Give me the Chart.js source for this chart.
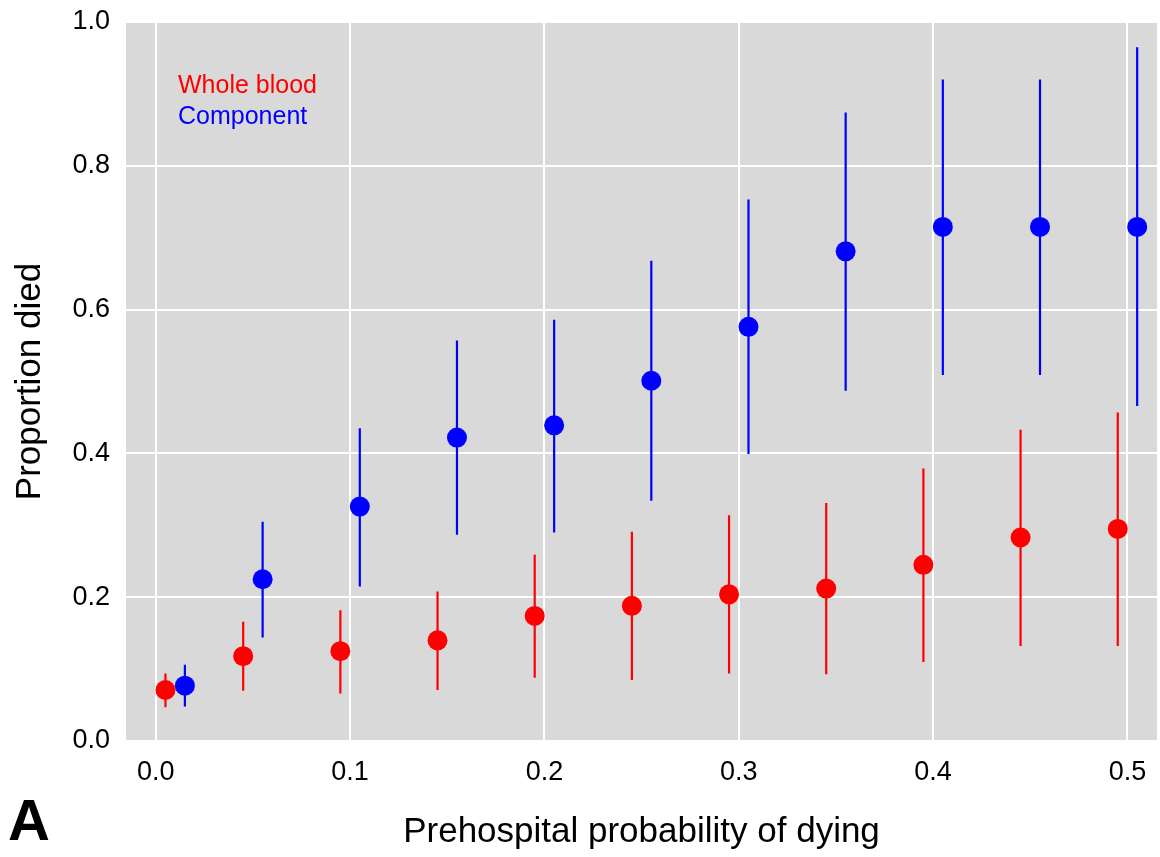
<!DOCTYPE html>
<html>
<head>
<meta charset="utf-8">
<script src="https://cdn.jsdelivr.net/npm/chart.js@4"></script>
<style>
  html, body { margin: 0; padding: 0; background: #ffffff; }
  #wrap { width: 1160px; height: 857px; position: relative; }
</style>
</head>
<body>
<div id="wrap"><canvas id="mortalityChart"></canvas></div>
<script>
// Series names (drawn as the in-plot legend)
const seriesNames = ['Whole blood', 'Component'];
const seriesColors = ['#ff0000', '#0000ff'];

// Whole blood: x position, proportion died, lower and upper bounds
const wholeX = [0.005, 0.045, 0.095, 0.145, 0.195, 0.245, 0.295, 0.345, 0.395, 0.445, 0.495];
const wholeMean = [0.071, 0.118, 0.125, 0.140, 0.174, 0.188, 0.204, 0.212, 0.245, 0.283, 0.295];
const wholeLow = [0.047, 0.070, 0.066, 0.071, 0.088, 0.085, 0.094, 0.093, 0.110, 0.132, 0.132];
const wholeHigh = [0.094, 0.166, 0.182, 0.208, 0.259, 0.291, 0.314, 0.331, 0.379, 0.433, 0.457];

// Component therapy
const compX = [0.015, 0.055, 0.105, 0.155, 0.205, 0.255, 0.305, 0.355, 0.405, 0.455, 0.505];
const compMean = [0.077, 0.225, 0.326, 0.422, 0.439, 0.501, 0.576, 0.681, 0.715, 0.715, 0.715];
const compLow = [0.048, 0.144, 0.215, 0.287, 0.290, 0.334, 0.399, 0.487, 0.509, 0.509, 0.466];
const compHigh = [0.106, 0.305, 0.435, 0.557, 0.586, 0.668, 0.753, 0.874, 0.920, 0.920, 0.965];

// Axis ticks
const xTicks = [0, 0.1, 0.2, 0.3, 0.4, 0.5];
const yTicks = [0, 0.2, 0.4, 0.6, 0.8, 1.0];

const FONT = '"Liberation Sans", Arial, Helvetica, sans-serif';

function points(xs, ys) {
    return xs.map((x, i) => ({ x: x, y: ys[i] }));
}

// vertical segments, separated by gaps
function bars(xs, lo, hi) {
    const out = [];
    xs.forEach((x, i) => {
        out.push({ x: x, y: lo[i] });
        out.push({ x: x, y: hi[i] });
        out.push({ x: x, y: null });
    });
    return out;
}

const panelBackground = {
    id: 'panelBackground',
    beforeDraw(chart) {
        const { ctx, chartArea: a } = chart;
        ctx.save();
        ctx.fillStyle = '#d9d9d9';
        ctx.fillRect(a.left, a.top, a.right - a.left, a.bottom - a.top);
        ctx.restore();
    }
};

const annotations = {
    id: 'annotations',
    afterDraw(chart) {
        const { ctx, chartArea: a } = chart;
        ctx.save();
        ctx.font = '25px ' + FONT;
        ctx.textAlign = 'left';
        ctx.textBaseline = 'alphabetic';
        seriesNames.forEach((name, i) => {
            ctx.fillStyle = seriesColors[i];
            ctx.fillText(name, a.left + 52, a.top + 71 + i * 31);
        });
        // panel letter
        ctx.fillStyle = '#000000';
        ctx.font = 'bold 58px ' + FONT;
        ctx.fillText('A', 8, 840);
        ctx.restore();
    }
};

new Chart(document.getElementById('mortalityChart'), {
    type: 'scatter',
    data: {
        datasets: [
            {
                label: seriesNames[0],
                data: points(wholeX, wholeMean),
                backgroundColor: seriesColors[0],
                borderWidth: 0,
                pointRadius: 10,
                order: 1
            },
            {
                label: seriesNames[1],
                data: points(compX, compMean),
                backgroundColor: seriesColors[1],
                borderWidth: 0,
                pointRadius: 10,
                order: 0
            },
            {
                label: seriesNames[0] + ' interval',
                data: bars(wholeX, wholeLow, wholeHigh),
                showLine: true,
                spanGaps: false,
                borderColor: seriesColors[0],
                borderWidth: 2.2,
                pointRadius: 0,
                order: 3
            },
            {
                label: seriesNames[1] + ' interval',
                data: bars(compX, compLow, compHigh),
                showLine: true,
                spanGaps: false,
                borderColor: seriesColors[1],
                borderWidth: 2.2,
                pointRadius: 0,
                order: 2
            }
        ]
    },
    options: {
        responsive: true,
        maintainAspectRatio: false,
        animation: false,
        layout: {
            autoPadding: false,
            padding: { top: 22, right: 3, left: 0, bottom: 0 }
        },
        scales: {
            x: {
                type: 'linear',
                min: -0.0153,
                max: 0.5152,
                afterBuildTicks: scale => {
                    scale.ticks = xTicks.map(v => ({ value: v }));
                },
                afterFit: scale => {
                    scale.height = 116;
                    scale.paddingLeft = 0;
                    scale.paddingRight = 0;
                },
                border: { display: false },
                grid: { color: '#ffffff', lineWidth: 2, drawTicks: false },
                ticks: {
                    padding: 15,
                    color: '#000000',
                    font: { family: FONT, size: 27 },
                    callback: v => v.toFixed(1)
                },
                title: {
                    display: true,
                    text: 'Prehospital probability of dying',
                    color: '#000000',
                    font: { family: FONT, size: 35 },
                    padding: { top: 0, bottom: 4 }
                }
            },
            y: {
                type: 'linear',
                min: 0,
                max: 1,
                afterBuildTicks: scale => {
                    scale.ticks = yTicks.map(v => ({ value: v }));
                },
                afterFit: scale => {
                    scale.width = 126;
                    scale.paddingTop = 0;
                    scale.paddingBottom = 0;
                },
                border: { display: false },
                grid: { color: '#ffffff', lineWidth: 2, drawTicks: false },
                ticks: {
                    padding: 16,
                    color: '#000000',
                    font: { family: FONT, size: 27 },
                    callback: v => v.toFixed(1)
                },
                title: {
                    display: true,
                    text: 'Proportion died',
                    color: '#000000',
                    font: { family: FONT, size: 35 },
                    padding: { top: 9, bottom: 0 }
                }
            }
        },
        plugins: {
            legend: { display: false },
            tooltip: { enabled: false }
        }
    },
    plugins: [panelBackground, annotations]
});
</script>
</body>
</html>
